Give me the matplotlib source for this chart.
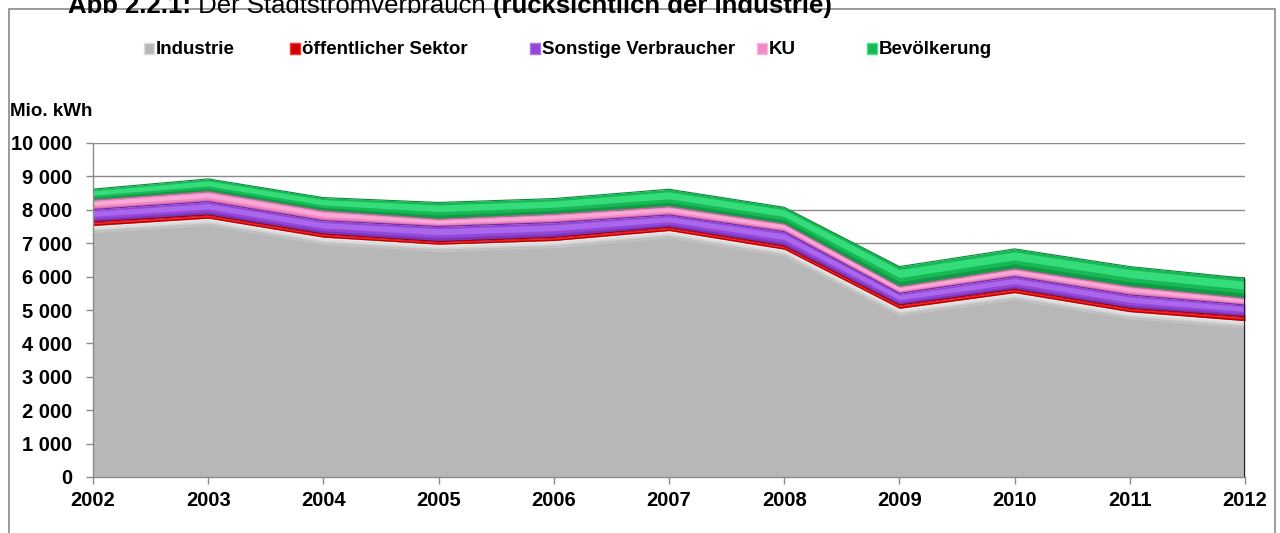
import matplotlib
matplotlib.use("Agg")
import matplotlib.pyplot as plt
import numpy as np
from matplotlib.patches import Rectangle
from matplotlib.ticker import FuncFormatter

plt.rcParams['font.family'] = ['Liberation Sans', 'DejaVu Sans']

years = [2002, 2003, 2004, 2005, 2006, 2007, 2008, 2009, 2010, 2011, 2012]
industrie = [7530, 7750, 7180, 6970, 7080, 7380, 6820, 5050, 5520, 4950, 4680]
oeffentlich = [110, 95, 95, 80, 96, 95, 96, 100, 100, 100, 120]
sonstige = [370, 400, 400, 450, 440, 370, 430, 350, 380, 400, 350]
ku = [280, 300, 290, 220, 250, 250, 230, 200, 230, 250, 200]
bevoelkerung = [330, 380, 400, 500, 470, 520, 500, 600, 600, 600, 600]

series_names = ["Industrie", "öffentlicher Sektor", "Sonstige Verbraucher", "KU", "Bevölkerung"]
series_vals = [industrie, oeffentlich, sonstige, ku, bevoelkerung]
base_cols = ['#b7b7b7', '#d00000', '#9446d8', '#f08ac6', '#17b855']
light_cols = ['#dcdcdc', '#ff3030', '#b070f0', '#ffb0dc', '#3ce684']
dark_cols = ['#9a9a9a', '#a00000', '#6a2aa8', '#c8609e', '#0a8a3c']

W, H = 1280, 533
fig = plt.figure(figsize=(W / 100, H / 100), dpi=100)
ax = fig.add_axes([93 / W, 1 - 477 / H, (1245 - 93) / W, (477 - 143) / H])

x = np.array(years, dtype=float)
bottom = np.zeros(len(years))
for i, vals in enumerate(series_vals):
    v = np.array(vals, dtype=float)
    top = bottom + v
    if i == 0:
        ax.fill_between(x, bottom, top, color=base_cols[0], lw=0, zorder=2)
        # whitish glow under the top edge
        for k, a in [(0.0, 1.0), (50, 0.8), (100, 0.5), (170, 0.25)]:
            ax.fill_between(x, top - k - 50, top - k, color='white', alpha=a * 0.7, lw=0, zorder=2.1)
    else:
        ax.fill_between(x, bottom, top, color=base_cols[i], lw=0, zorder=3)
        ax.fill_between(x, bottom + 0.45 * v, top - 0.15 * v, color=light_cols[i], lw=0, zorder=3.1, alpha=0.8)
        ax.fill_between(x, bottom, bottom + 0.25 * v, color=dark_cols[i], lw=0, zorder=3.1, alpha=0.6)
        ax.plot(x, top, color=dark_cols[i], lw=0.8, zorder=3.2)
    bottom = top

total = bottom
ax.vlines(years[-1], 0, total[-1], color='#202020', lw=1.5, zorder=4)

ax.set_xlim(years[0], years[-1])
ax.set_ylim(0, 10000)
ax.set_yticks(np.arange(0, 10001, 1000))
ax.set_xticks(years)
ax.yaxis.set_major_formatter(FuncFormatter(lambda v, p: f"{int(v):,}".replace(",", " ")))
ax.grid(axis='y', color='#8a8a8a', lw=1.0, zorder=0)
ax.set_axisbelow(True)
for s in ['top', 'right']:
    ax.spines[s].set_visible(False)
for s in ['left', 'bottom']:
    ax.spines[s].set_color('#8a8a8a')
    ax.spines[s].set_linewidth(1.0)
    ax.spines[s].set_zorder(5)
ax.tick_params(axis='y', length=5, width=1, color='#8a8a8a', pad=10, labelsize=14.5)
ax.tick_params(axis='x', length=5, width=1, color='#8a8a8a', pad=5, labelsize=14.5)
for lab in ax.get_xticklabels() + ax.get_yticklabels():
    lab.set_fontweight('bold')

# y unit label
fig.text(10 / W, 1 - 111 / H, "Mio. kWh", fontsize=13.5, fontweight='bold', va='center', ha='left')

# legend (manual)
icon_x = [144, 290, 530, 757, 867]
ly = 49
for name, ix, bc, lc in zip(series_names, icon_x, base_cols, light_cols):
    fig.patches.append(Rectangle((ix / W, 1 - (ly + 5) / H), 10 / W, 11 / H,
                                 transform=fig.transFigure, facecolor=bc, edgecolor=lc, lw=1))
    fig.text((ix + 12) / W, 1 - ly / H, name, fontsize=13.5, fontweight='bold', va='center', ha='left')

# chart border
fig.patches.append(Rectangle((9 / W, -0.1), (1275 - 9) / W, 1.1 - 9 / H, transform=fig.transFigure,
                             facecolor='none', edgecolor='#8a8a8a', lw=1.2))

# title (partially cut off at the top, as in the reference)
title_parts = [("Abb 2.2.1:", 'bold'), (" Der Stadtstromverbrauch ", 'normal'),
               ("(rücksichtlich der Industrie)", 'bold')]
fig.canvas.draw()
r = fig.canvas.get_renderer()
cx = 68
for txt, wt in title_parts:
    t = fig.text(cx / W, 1 - 13 / H, txt, fontsize=18.5, fontweight=wt, va='baseline', ha='left')
    bb = t.get_window_extent(renderer=r)
    cx += bb.width

fig.savefig("out.png", dpi=100)
